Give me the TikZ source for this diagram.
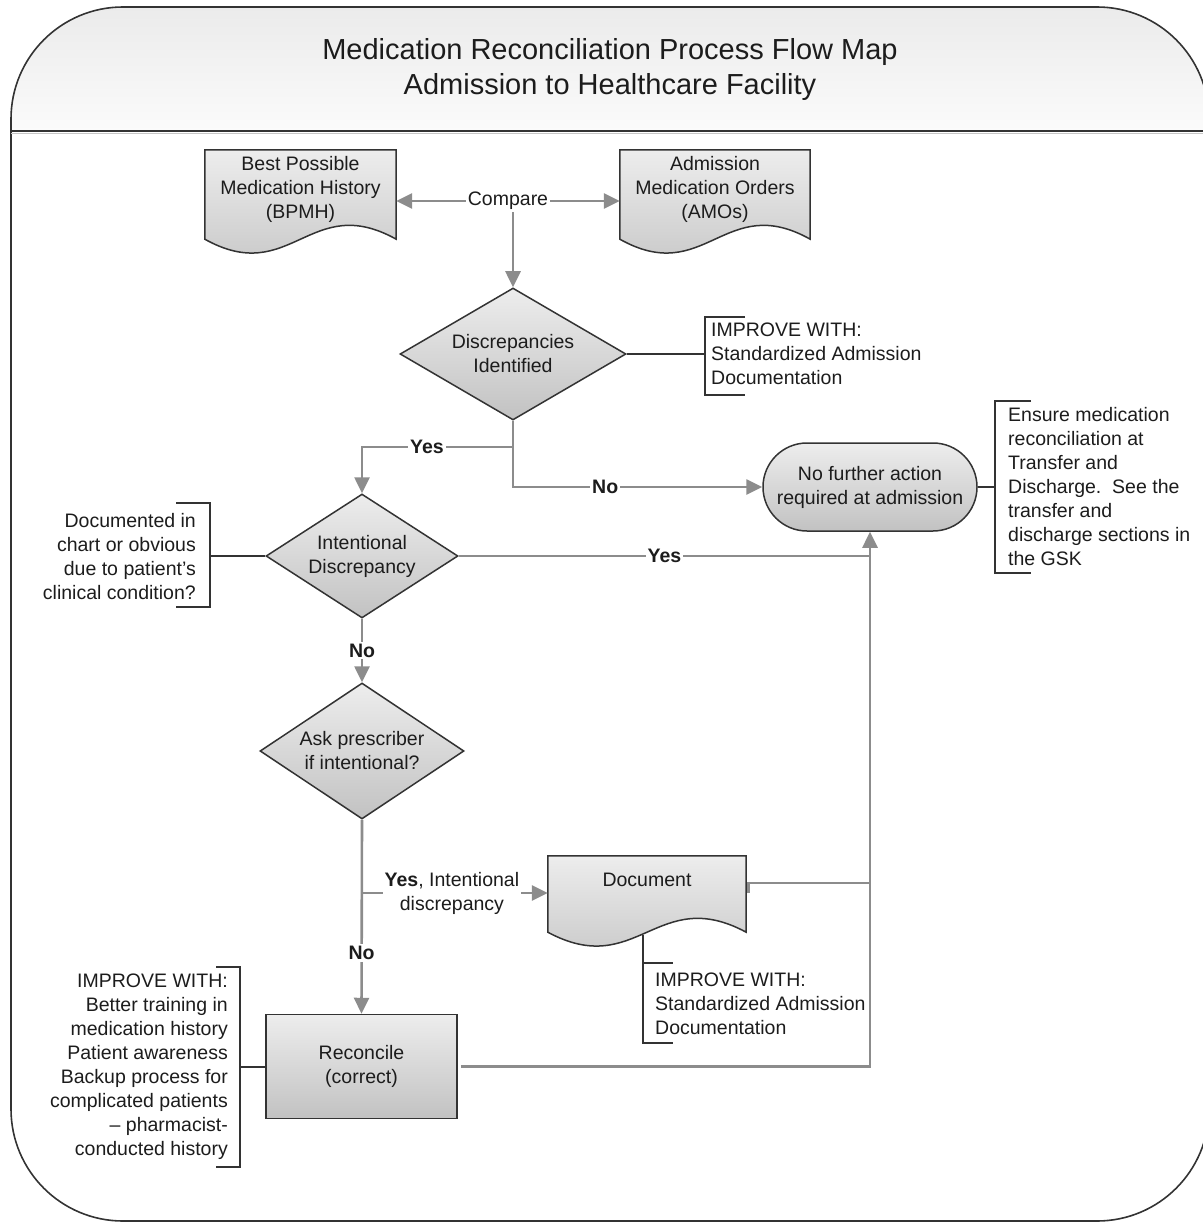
\documentclass[tikz,border=0pt]{standalone}
\usepackage{fontspec}
\setmainfont{Liberation Sans}
\usetikzlibrary{shapes.geometric,arrows.meta,calc}
\definecolor{connc}{HTML}{8C8C8C}
\definecolor{edgec}{HTML}{333333}
\definecolor{ntop}{HTML}{EDEDED}
\definecolor{nbot}{HTML}{C2C2C2}
\definecolor{htop}{HTML}{EBEBEB}
\definecolor{hbot}{HTML}{FBFBFB}
\definecolor{txtc}{HTML}{1C1C1C}
\pgfdeclarelayer{framelayer}
\pgfdeclarelayer{docslayer}
\pgfsetlayers{framelayer,docslayer,main}
\tikzset{
 every node/.style={font=\fontsize{19.5}{24}\selectfont, text=txtc},
 box/.style={draw=edgec, line width=1.5pt, top color=ntop, bottom color=nbot},
 dec/.style={box, diamond, aspect=1.5, inner sep=0pt, align=center},
 proc/.style={box, rectangle, align=center},
 termbox/.style={box, rectangle, rounded corners=44pt, align=center},
 docnode/.style={rectangle, align=center, inner sep=0pt},
 docsty/.style={draw=edgec, line width=1.5pt, top color=ntop, bottom color=nbot},
 conn/.style={draw=connc, line width=2.6pt},
 arr/.style={conn, -{Triangle[length=16pt,width=15pt]}},
 lbl/.style={fill=white, inner sep=2pt},
 blbl/.style={lbl, font=\fontsize{19.5}{24}\selectfont\bfseries},
 note/.style={draw=edgec, line width=2pt},
 notetext/.style={inner sep=0pt},
}
\newcommand\docshape[3]{%
 \begin{pgfonlayer}{docslayer}
 \path[docsty] let \p1=(#1.south west), \p2=(#1.north east) in
  (\x1,\y2) -- (\x2,\y2) -- (\x2,{\y1-#2pt})
  .. controls ({\x1+0.55*(\x2-\x1)},{\y1-#2pt+#3pt}) and ({\x1+0.45*(\x2-\x1)},{\y1-#2pt-#3pt}) ..
  (\x1,{\y1-#2pt}) -- cycle;
 \end{pgfonlayer}}
\begin{document}
\begin{tikzpicture}[x=1pt,y=-1pt]
\useasboundingbox (0,0) rectangle (1202,1222);
% frame
\begin{pgfonlayer}{framelayer}
\begin{scope}
\clip[rounded corners=112pt] (11,7) rectangle (1209,1221);
\shade[top color=htop,bottom color=hbot] (11,7) rectangle (1209,131);
\end{scope}
\draw[draw=edgec, line width=1.6pt, rounded corners=112pt] (11,7) rectangle (1209,1221);
\draw[draw=edgec, line width=2pt] (11,131) -- (1209,131);
\draw[draw=gray!45, line width=1.5pt] (11,133.5) -- (1209,133.5);
\end{pgfonlayer}

\node[align=center, font=\fontsize{29}{35}\selectfont] (title) at (610,70)
 {Medication Reconciliation Process Flow Map\\Admission to Healthcare Facility};

% documents
\node[docnode, minimum width=191pt, minimum height=78pt] (bpmh) at (300.5,189)
 {Best Possible\\Medication History\\(BPMH)};
\node[docnode, minimum width=190pt, minimum height=78pt] (amos) at (715,189)
 {Admission\\Medication Orders\\(AMOs)};
\node[docnode, minimum width=198pt, minimum height=48pt] (doc) at (647,880) {Document};
\docshape{bpmh}{11}{48}
\docshape{amos}{11}{48}
\docshape{doc}{28}{48}

\node[lbl] (cmp) at (508,201) {Compare};

% decisions / processes
\node[dec, minimum width=226pt, minimum height=132pt] (d1) at (513,354) {Discrepancies\\Identified};
\node[termbox, minimum width=214pt, minimum height=88pt] (term) at (870,487) {No further action\\required at admission};
\node[dec, minimum width=192pt, minimum height=124pt] (d2) at (362,556) {Intentional\\Discrepancy};
\node[dec, minimum width=204pt, minimum height=136pt] (d3) at (362,751) {Ask prescriber\\if intentional?};
\node[proc, minimum width=191pt, minimum height=104pt] (rec) at (361.5,1066.5) {Reconcile\\(correct)};

% annotations
\node[notetext, anchor=west, align=left] (n1) at (711,354) {IMPROVE WITH:\\Standardized Admission\\Documentation};
\draw[note] (745,317) -- (705,317) -- (705,395) -- (745,395);
\coordinate (n1b) at (705,354);
\draw[note] (d1.east) -- (n1b);

\node[notetext, anchor=west, align=left] (n2) at (1008,487) {Ensure medication\\reconciliation at\\Transfer and\\Discharge.\ \ See the\\transfer and\\discharge sections in\\the GSK};
\draw[note] (1031,401) -- (995,401) -- (995,573) -- (1031,573);
\coordinate (n2b) at (995,487);
\draw[note] (term.east) -- (n2b);

\node[notetext, anchor=east, align=right] (n3) at (196,557) {Documented in\\chart or obvious\\due to patient’s\\clinical condition?};
\draw[note] (176,503) -- (210,503) -- (210,607) -- (176,607);
\coordinate (n3b) at (210,556);
\draw[note] (d2.west) -- (n3b);

\node[notetext, anchor=east, align=right] (n4) at (228,1067) {IMPROVE WITH:\\Better training in\\medication history\\Patient awareness\\Backup process for\\complicated patients\\– pharmacist-\\conducted history};
\draw[note] (216,967) -- (240,967) -- (240,1167) -- (216,1167);
\coordinate (n4b) at (240,1066.5);
\draw[note] (rec.west) -- (n4b);

\node[notetext, anchor=west, align=left] (n5) at (655,1004) {IMPROVE WITH:\\Standardized Admission\\Documentation};
\coordinate (n5b) at (643,935);
\draw[note] (n5b) -- (643,1043) -- (673,1043);
\draw[note] (643,963) -- (673,963);

% connectors
\draw[arr] (cmp.west) -- (cmp.west -| bpmh.east);
\draw[arr] (cmp.east) -- (cmp.east -| amos.west);
\draw[arr] (cmp.south -| d1.north) -- (d1.north);

\coordinate (j1) at (513,447);
\draw[arr] (d1.south) -- (j1) -- node[blbl,pos=0.57]{Yes} (j1 -| d2.north) -- (d2.north);
\draw[arr] (j1) |- node[blbl,pos=0.685]{No} (term.west);

\draw[conn] (d2.east) -- node[blbl]{Yes} (d2.east -| term.south);
\draw[arr] ([xshift=3pt]rec.east) -- (rec.east -| term.south) -- (term.south);

\coordinate (j3) at (362,893);
\coordinate (j4) at (870,883);
\draw[conn] ($(doc.east |- j3)+(2,0)$) -- ($(doc.east |- j4)+(2,0)$) -- (j4);

\draw[arr] (d2.south) -- node[blbl]{No} (d3.north);
\draw[arr] (d3.south) -- node[blbl,pos=0.687]{No} (rec.north);
\draw[arr] (j3) -- node[lbl,pos=0.484,align=center]{\textbf{Yes}, Intentional\\discrepancy} (j3 -| doc.west);
\end{tikzpicture}
\end{document}
